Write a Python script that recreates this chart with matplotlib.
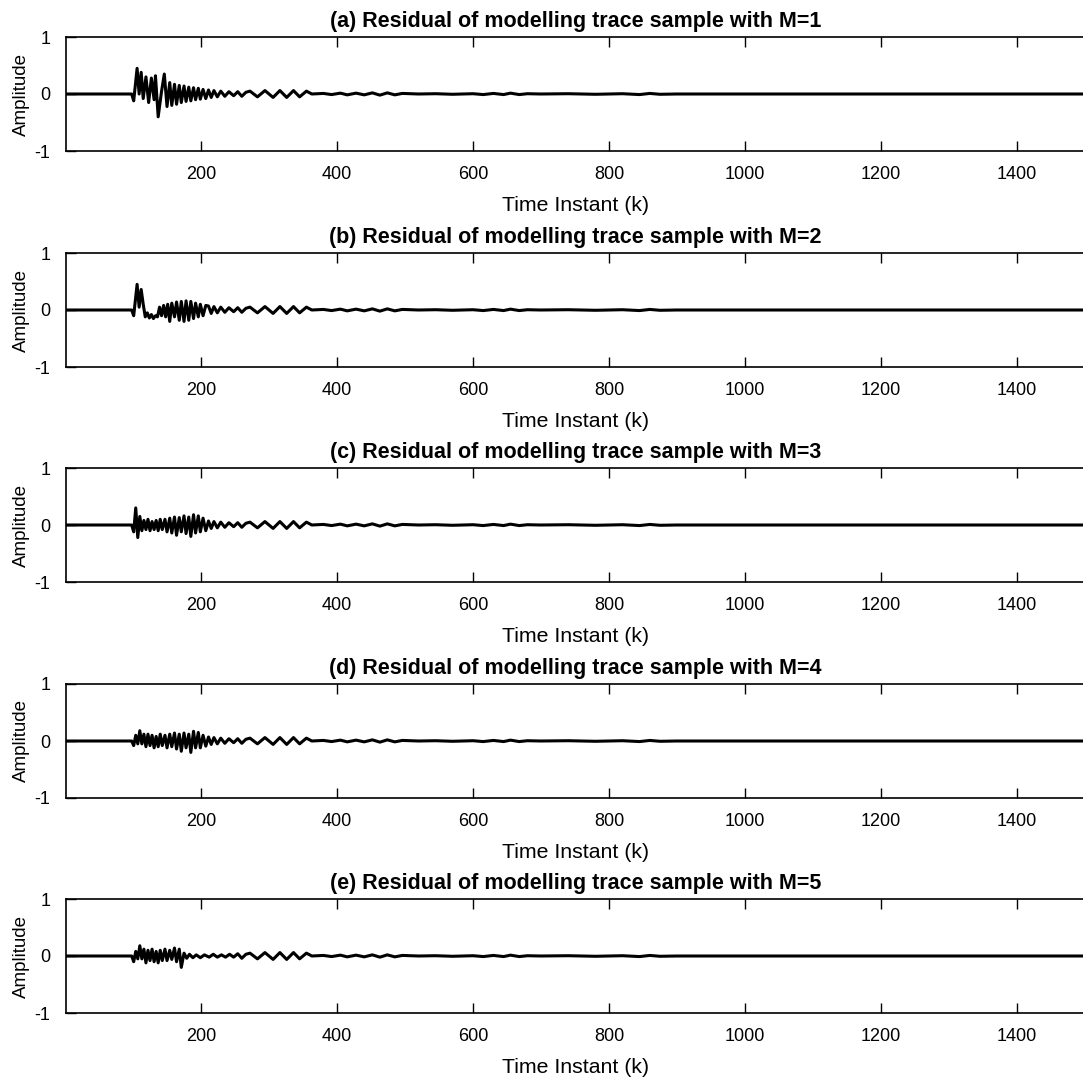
import matplotlib
matplotlib.use("Agg")
import matplotlib.pyplot as plt

plt.rcParams['font.family'] = ['Liberation Sans', 'DejaVu Sans']
plt.rcParams['axes.unicode_minus'] = False

head1_k = [1, 98, 101, 106, 109, 112, 115, 119, 123, 127, 131, 133, 137, 142, 146, 150, 154, 157,
           161, 164, 168, 171, 175, 178, 182, 185, 189, 192, 196, 199, 203, 207]
head1_a = [0, 0, -0.12, 0.45, 0.0, 0.38, -0.08, 0.3, -0.15, 0.28, -0.1, 0.32, -0.4, 0.05, 0.35, -0.22, 0.2, -0.2,
           0.17, -0.18, 0.15, -0.15, 0.14, -0.13, 0.12, -0.12, 0.11, -0.1, 0.1, -0.09, 0.08, -0.08]

head2_k = [1, 98, 101, 106, 109, 112, 115, 118, 121, 124, 127, 130, 133, 136, 139, 142, 145, 148, 151,
           154, 157, 161, 164, 168, 171, 175, 178, 182, 185, 189, 192, 196, 199, 203, 207]
head2_a = [0, 0, -0.1, 0.45, 0.05, 0.36, 0.1, -0.12, -0.05, -0.14, -0.08, -0.15, -0.1, -0.12, 0.05, -0.1, 0.08, -0.12, 0.1,
           -0.2, 0.12, -0.12, 0.14, -0.18, 0.15, -0.2, 0.16, -0.18, 0.15, -0.15, 0.12, -0.12, 0.1, -0.1, 0.08]

head3_k = [1, 98, 101, 104, 107, 110, 113, 116, 119, 122, 125, 128, 131, 134, 137, 140, 143, 147, 150,
           154, 157, 161, 164, 168, 171, 175, 178, 182, 185, 189, 192, 196, 199, 203, 207]
head3_a = [0, 0, -0.12, 0.3, -0.22, 0.15, -0.1, 0.08, -0.08, 0.1, -0.1, 0.06, -0.08, 0.08, -0.1, 0.1, -0.08, 0.1, -0.12,
           0.12, -0.14, 0.14, -0.18, 0.13, -0.12, 0.16, -0.15, 0.14, -0.2, 0.18, -0.14, 0.16, -0.12, 0.12, -0.1]

head4_k = [1, 98, 101, 104, 107, 110, 113, 116, 119, 122, 125, 128, 131, 134, 137, 140, 143, 147, 150,
           154, 157, 161, 164, 168, 171, 175, 178, 182, 185, 189, 192, 196, 199, 203, 207]
head4_a = [0, 0, -0.08, 0.1, -0.05, 0.18, -0.05, 0.12, -0.1, 0.12, -0.08, 0.1, -0.12, 0.08, -0.1, 0.12, -0.08, 0.1, -0.12,
           0.12, -0.1, 0.14, -0.14, 0.12, -0.18, 0.14, -0.12, 0.12, -0.2, 0.17, -0.12, 0.15, -0.12, 0.1, -0.09]

head5_k = [1, 98, 101, 104, 107, 110, 113, 116, 119, 122, 125, 128, 131, 134, 137, 140, 143, 147, 150,
           154, 157, 161, 164, 168, 171, 175, 179, 183, 188, 193, 199, 205, 212, 218, 224, 230, 236, 242, 248,
           254, 260, 266]
head5_a = [0, 0, -0.1, 0.08, -0.05, 0.18, -0.05, 0.12, -0.12, 0.1, -0.08, 0.12, -0.1, 0.08, -0.12, 0.1, -0.08, 0.12, -0.08,
           0.1, -0.06, 0.14, -0.1, 0.12, -0.2, 0.05, -0.04, 0.03, -0.03, 0.02, -0.03, 0.02, -0.02, 0.03, -0.02, 0.02, -0.02, 0.03, -0.02,
           0.04, -0.04, 0.03]

# decay shared by panels (a)-(d)
mid_k = [211, 215, 219, 224, 229, 235, 241, 248, 254, 260, 266]
mid_a = [0.07, -0.06, 0.06, -0.05, 0.05, -0.04, 0.04, -0.03, 0.04, -0.04, 0.03]

# tail shared by all panels
tail_k = [272, 283, 294, 306, 316, 326, 336, 345, 355, 363, 380, 392, 405, 415, 428, 440, 452, 463, 474,
          485, 496, 520, 545, 570, 600, 615, 630, 645, 655, 668, 680, 700, 740, 780, 820, 845, 860, 875, 900, 1500]
tail_a = [0.05, -0.05, 0.06, -0.06, 0.06, -0.06, 0.06, -0.05, 0.05, 0.0, 0.01, -0.01, 0.015, -0.015, 0.015, -0.015, 0.02, -0.02, 0.02,
          -0.015, 0.01, 0.0, 0.005, -0.005, 0.005, -0.01, 0.01, -0.01, 0.015, -0.01, 0.005, 0.0, 0.005, -0.005, 0.005, -0.01, 0.01, -0.005, 0.0, 0.0]

letters = ['a', 'b', 'c', 'd', 'e']
orders = [1, 2, 3, 4, 5]
xticks = [200, 400, 600, 800, 1000, 1200, 1400]
yticks = [-1, 0, 1]

traces = [
    (head1_k + mid_k + tail_k, head1_a + mid_a + tail_a),
    (head2_k + mid_k + tail_k, head2_a + mid_a + tail_a),
    (head3_k + mid_k + tail_k, head3_a + mid_a + tail_a),
    (head4_k + mid_k + tail_k, head4_a + mid_a + tail_a),
    (head5_k + tail_k, head5_a + tail_a),
]

W, H = 1083, 1079
fig = plt.figure(figsize=(W / 100, H / 100), dpi=100)

tops = [37, 253, 468, 684, 899]
left_px, right_px, h_px = 65.7, 1085, 114

for i in range(5):
    ax = fig.add_axes([left_px / W, 1 - (tops[i] + h_px) / H, (right_px - left_px) / W, h_px / H])
    k, a = traces[i]
    ax.plot(k, a, color='black', lw=2.2)
    ax.set_xlim(1, 1500)
    ax.set_ylim(-1, 1)
    ax.set_xticks(xticks)
    ax.set_yticks(yticks)
    ax.tick_params(direction='in', length=7, width=1, top=True, right=False, labelsize=13, pad=11)
    ax.spines['right'].set_visible(False)
    for s in ax.spines.values():
        s.set_linewidth(1.2)
    ax.set_title('(%s) Residual of modelling trace sample with M=%d' % (letters[i], orders[i]),
                 fontsize=15.5, fontweight='bold', pad=7)
    ax.set_xlabel('Time Instant (k)', fontsize=15.3, labelpad=9)
    ax.set_ylabel('Amplitude', fontsize=13.5, labelpad=3)

fig.savefig('out.png', dpi=100)
